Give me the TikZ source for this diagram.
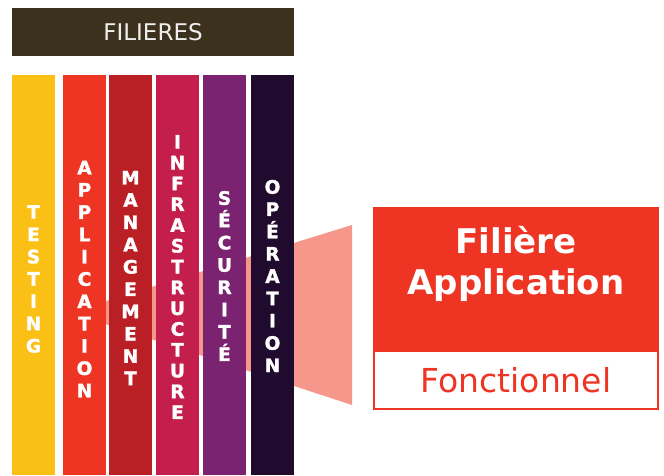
\documentclass[tikz,border=0pt]{standalone}
\usepackage{fontspec}
\setmainfont{DejaVu Sans}
\newfontfamily\heavyfont[FakeBold=1.6]{DejaVu Sans Bold}
\usepackage{xcolor}
\usepackage{tikz}

\definecolor{bannercol}{HTML}{3C311D}
\definecolor{testingcol}{HTML}{FBC015}
\definecolor{appcol}{HTML}{EE3524}
\definecolor{mgmtcol}{HTML}{B91F24}
\definecolor{infracol}{HTML}{C41E4D}
\definecolor{secucol}{HTML}{7B2271}
\definecolor{opcol}{HTML}{200B2E}
\definecolor{funnelcol}{HTML}{F5978A}

\tikzset{
  filiere/.style={draw=none, minimum width=43pt, minimum height=400pt, inner sep=0pt, anchor=north},
  letters/.style={draw=none, text=white, font=\heavyfont\fontsize{18.5}{22.3}\selectfont, align=center, inner sep=0pt}
}

\begin{document}
\begin{tikzpicture}[x=1pt, y=-1pt]
            \useasboundingbox (0,0) rectangle (664,475);

            \node[draw=none, fill=bannercol, minimum width=282pt, minimum height=48pt, inner sep=0pt,
                  text=white!92!bannercol, font=\fontsize{23}{28}\selectfont] (filieres) at (153, 32) {FILIERES};

            % funnel behind the columns
            \fill[funnelcol] (90, 306) -- (352, 225) -- (352, 405) -- (90, 319) -- cycle;

            \node[filiere, fill=testingcol] (testing) at (33.5, 75) {};
            \node[filiere, fill=appcol] (application) at (84.5, 75) {};
            \node[filiere, fill=mgmtcol] (management) at (130.5, 75) {};
            \node[filiere, fill=infracol] (infrastructure) at (177.5, 75) {};
            \node[filiere, fill=secucol] (securite) at (224.5, 75) {};
            \node[filiere, fill=opcol] (operation) at (272.5, 75) {};

            \node[letters] (testing-txt) at (33.5, 279) {T\\E\\S\\T\\I\\N\\G};
            \node[letters] (application-txt) at (84.5, 279) {A\\P\\P\\L\\I\\C\\A\\T\\I\\O\\N};
            \node[letters] (management-txt) at (130.5, 278) {M\\A\\N\\A\\G\\E\\M\\E\\N\\T};
            \node[letters, font=\heavyfont\fontsize{18.5}{20.8}\selectfont] (infrastructure-txt) at (177.5, 277) {I\\N\\F\\R\\A\\S\\T\\R\\U\\C\\T\\U\\R\\E};
            \node[letters] (securite-txt) at (224.5, 276) {S\\É\\C\\U\\R\\I\\T\\É};
            \node[letters] (operation-txt) at (272.5, 276) {O\\P\\É\\R\\A\\T\\I\\O\\N};

            % selected filiere
            \node[draw=appcol, line width=1.5pt, fill=appcol, minimum width=284pt, minimum height=143pt, inner sep=0pt] (app-box) at (516, 279.5) {};
            \node[draw=appcol, line width=1.5pt, fill=white, minimum width=284pt, minimum height=58pt, inner sep=0pt,
                  text=appcol, font=\fontsize{33}{40}\selectfont] (fonctionnel) at (516, 380) {Fonctionnel};
            \node[draw=none, text=white, align=center, inner sep=0pt, font=\bfseries\fontsize{34}{41}\selectfont] (app-title) at (516, 263.5) {Filière\\Application};

            \end{tikzpicture}
\end{document}
